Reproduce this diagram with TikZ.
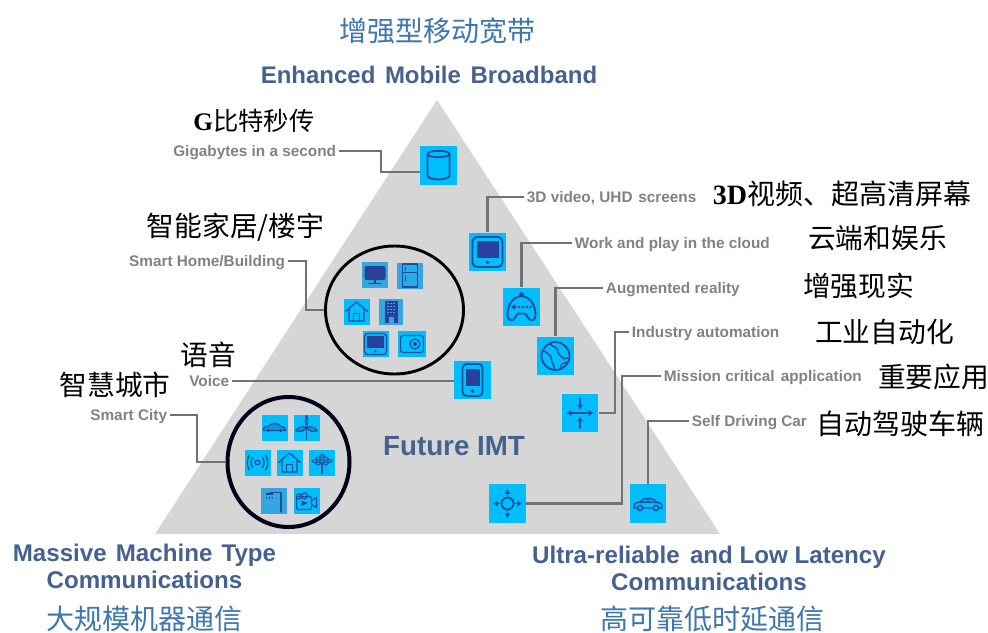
\documentclass[tikz,border=0pt]{standalone}
\usepackage{fontspec}
\setmainfont{Liberation Sans}
\newfontfamily\cjk{Noto Sans CJK SC}
\newfontfamily\serifb{Liberation Serif}[BoldFont={Liberation Serif Bold}]
\usetikzlibrary{shapes.geometric,arrows.meta}
\definecolor{tri}{HTML}{D6D6D6}
\definecolor{cyanbg}{HTML}{00BDFC}
\definecolor{dimbg}{HTML}{35A6E2}
\definecolor{glyphc}{HTML}{1E4F9C}
\definecolor{glyphd}{HTML}{29409A}
\definecolor{wirec}{HTML}{6E7378}
\definecolor{labc}{HTML}{7E8286}
\definecolor{headb}{HTML}{45628F}
\definecolor{cjkb}{HTML}{3E76AE}
\tikzset{
  lab/.style={font=\fontsize{11.5pt}{13pt}\selectfont\bfseries,text=labc,inner sep=2pt,text height=8.2pt,text depth=0pt},
  head/.style={font=\fontsize{18.1pt}{20.2pt}\selectfont\bfseries,text=headb,align=center,inner sep=0pt},
  cjkhead/.style={font=\fontsize{21pt}{24pt}\cjk,text=cjkb,inner sep=0pt},
  cjkblack/.style={font=\fontsize{20.8pt}{24pt}\cjk,text=black,inner sep=0pt},
  wire/.style={draw=wirec,line width=2.2pt,line join=miter},
  bigicon/.style={fill=cyanbg,minimum width=27.5pt,minimum height=29pt,inner sep=0pt},
  smallicon/.style={fill=cyanbg,minimum width=19.5pt,minimum height=19.5pt,inner sep=0pt},
  dimicon/.style={smallicon,fill=dimbg},
  ring/.style={draw=#1,ellipse,inner sep=0pt},
  gl/.style={draw=glyphc,line width=1.4pt,line cap=round,line join=round},
  glf/.style={fill=glyphd},
  sm/.style={draw=glyphc,line width=0.9pt,line cap=round,line join=round},
  arr/.style={gl,-{Latex[length=4pt,width=4.5pt]}},
  arrd/.style={gl,{Latex[length=4pt,width=4.5pt]}-{Latex[length=4pt,width=4.5pt]}}
}
% ---- large glyphs
\newcommand\gDb[1]{\begin{scope}[shift={(#1)}]
 \draw[gl] (0,-11.5) ellipse (11 and 3.2);
 \draw[gl] (-11,-11.5) -- (-11,10.5) .. controls (-9,15) and (9,15) .. (11,10.5) -- (11,-11.5);
\end{scope}}
\newcommand\gTablet[1]{\begin{scope}[shift={(#1)}]
 \draw[gl,rounded corners=3.5] (-15,-15) rectangle (15,15);
 \fill[glf] (-11,-11) rectangle (11,6);
 \fill[glf] (0,10.3) circle (1.9);
\end{scope}}
\newcommand\gPhone[1]{\begin{scope}[shift={(#1)}]
 \draw[gl,rounded corners=3] (-10,-16) rectangle (10,16);
 \fill[glf] (-7,-11) rectangle (7,6);
 \fill[glf] (0,11) circle (1.9);
\end{scope}}
\newcommand\gPad[1]{\begin{scope}[shift={(#1)}]
 \draw[gl] (-14,8) .. controls (-14,-2) and (-9,-10) .. (0,-11) .. controls (9,-10) and (14,-2) .. (14,8)
   .. controls (14.5,14) and (8,15) .. (6,10) .. controls (5.5,7.5) and (4,6.5) .. (2,6.5) -- (-2,6.5)
   .. controls (-4,6.5) and (-5.5,7.5) .. (-6,10) .. controls (-8,15) and (-14.5,14) .. cycle;
 \fill[glf] (0,-12.5) circle (2.4);
 \draw[gl,line width=1pt] (-9.5,0) -- (-5.5,0) (-7.5,-2) -- (-7.5,2);
 \foreach \q in {-2.5,1.5,5.5,9}{\fill[glf] (\q,0) circle (1.3);}
\end{scope}}
\newcommand\gGlobe[1]{\begin{scope}[shift={(#1)}]
 \draw[gl] (0,0) circle (14);
 \draw[gl,line width=1.1pt] (-13,-5) .. controls (-8,-5) and (-8,-1) .. (-5,0) .. controls (-3,2) and (-5,5) .. (-3,7) .. controls (-2,9) and (-1,11) .. (-1,14);
 \draw[gl,line width=1.1pt] (-6,-12.5) .. controls (-3,-9) and (2,-9) .. (2,-6) .. controls (1,-3) and (5,-2) .. (6,1) .. controls (7,3) and (10,3) .. (12,2);
 \draw[gl,line width=1.1pt] (5,13) .. controls (4,8) and (8,7) .. (12,6);
\end{scope}}
\newcommand\gIn[1]{\begin{scope}[shift={(#1)}]
 \draw[arrd] (-14,0) -- (14,0);
 \draw[arr] (0,-15) -- (0,-3);
 \draw[arr] (0,15) -- (0,3);
\end{scope}}
\newcommand\gOut[1]{\begin{scope}[shift={(#1)}]
 \draw[gl] (0,0) circle (6);
 \draw[arr] (0,-6) -- (0,-15);
 \draw[arr] (0,6) -- (0,15);
 \draw[arr] (-6,0) -- (-15,0);
 \draw[arr] (6,0) -- (15,0);
\end{scope}}
\newcommand\gCar[1]{\begin{scope}[shift={(#1)}]
 \draw[gl,line width=1.1pt] (-11,4.5) -- (-14,4.5) .. controls (-14.5,0) and (-12,-1) .. (-8,-1.5) .. controls (-5,-5) and (-2,-5) .. (2,-5)
   .. controls (5,-5) and (7,-3) .. (9,-1.2) .. controls (12,-.8) and (14.5,0) .. (14,4.5) -- (11,4.5);
 \draw[gl,line width=1.1pt] (-5,4.5) -- (5,4.5) (-8,-1.5) -- (9,-1.2) (0,-5) -- (0,-1.3);
 \draw[gl,line width=1.1pt] (-8,4.5) circle (2.6) (8,4.5) circle (2.6);
\end{scope}}
% ---- small glyphs
\newcommand\sMonitor[1]{\begin{scope}[shift={(#1)}]
 \fill[glf,rounded corners=1.5] (-10.5,-9) rectangle (10.5,5);
 \fill[glf] (-1,5) rectangle (1,8.5);
 \draw[sm] (-6,8.5) -- (6,8.5);
\end{scope}}
\newcommand\sFridge[1]{\begin{scope}[shift={(#1)}]
 \draw[sm,fill=dimbg!80!cyanbg] (-7.5,-11.5) rectangle (7.5,11.5);
 \draw[sm] (-7.5,-3) -- (7.5,-3) (-4.5,-8) -- (-4.5,-5) (-4.5,0) -- (-4.5,5);
\end{scope}}
\newcommand\sHome[1]{\begin{scope}[shift={(#1)}]
 \draw[sm] (-11,0) -- (0,-9.5) -- (11,0) (-7.5,-2) -- (-7.5,9.5) -- (7.5,9.5) -- (7.5,-2);
 \draw[sm] (-3,9.5) -- (-3,2) -- (3,2) -- (3,9.5);
\end{scope}}
\newcommand\sBuilding[1]{\begin{scope}[shift={(#1)}]
 \fill[glf] (-6.5,-11) rectangle (6.5,11);
 \foreach \a in {-3,0,3}{\foreach \b in {-8,-5,-2,1}{\fill[dimbg] (\a-.8,\b-.8) rectangle (\a+.8,\b+.8);}}
 \fill[dimbg] (-2.5,5.5) rectangle (2.5,11);
\end{scope}}
\newcommand\sTablet[1]{\begin{scope}[shift={(#1)}]
 \draw[sm,rounded corners=2.5] (-11,-10.5) rectangle (11,10.5);
 \fill[glf] (-8.5,-8) rectangle (8.5,4);
 \fill[glf] (0,7.3) circle (1.3);
\end{scope}}
\newcommand\sSafe[1]{\begin{scope}[shift={(#1)}]
 \draw[sm,rounded corners=2] (-11.5,-8.5) rectangle (11.5,8.5);
 \draw[sm] (3,0) circle (5);
 \fill[glf] (3,0) circle (2);
\end{scope}}
\newcommand\sCar[1]{\begin{scope}[shift={(#1)}]
 \draw[sm,fill=glyphc!35!cyanbg] (-11,3) .. controls (-11.5,-.5) and (-9,-1) .. (-6,-1.5) .. controls (-4,-4) and (-1,-4) .. (1,-4)
   .. controls (4,-4) and (5,-2) .. (7,-1) .. controls (9,-.6) and (11.5,0) .. (11,3) -- cycle;
 \fill[glf] (-6,3) circle (1.6) (6,3) circle (1.6);
\end{scope}}
\newcommand\sMill[1]{\begin{scope}[shift={(#1)}]
 \draw[sm] (0,-1) -- (0,12);
 \draw[sm,fill=glyphc!35!cyanbg] (0,-1) .. controls (-2,-6) and (-1,-10) .. (0,-12) .. controls (1,-10) and (2,-6) .. (0,-1);
 \draw[sm,fill=glyphc!35!cyanbg] (0,0) .. controls (-4,-2) and (-8,0) .. (-11,3) .. controls (-7,5) and (-3,4) .. (0,0);
 \draw[sm,fill=glyphc!35!cyanbg] (0,0) .. controls (4,-2) and (8,0) .. (11,3) .. controls (7,5) and (3,4) .. (0,0);
\end{scope}}
\newcommand\sWave[1]{\begin{scope}[shift={(#1)}]
 \draw[sm,rounded corners=1] (-2.5,-2) rectangle (2.5,2);
 \draw[sm] (-5,-5) .. controls (-7,-2) and (-7,2) .. (-5,5) (5,-5) .. controls (7,-2) and (7,2) .. (5,5);
 \draw[sm] (-8,-7.5) .. controls (-11,-3) and (-11,3) .. (-8,7.5) (8,-7.5) .. controls (11,-3) and (11,3) .. (8,7.5);
\end{scope}}
\newcommand\sTree[1]{\begin{scope}[shift={(#1)}]
 \draw[sm] (0,0) -- (0,11);
 \foreach \a/\b in {0/-6.5,-3.8/-4,3.8/-4,-7.6/-1.5,7.6/-1.5,0/-1.5,-3.8/1,3.8/1}{\draw[sm,line width=.7pt] (\a-2.6,\b) -- (\a,\b-1.7) -- (\a+2.6,\b) -- (\a,\b+1.7) -- cycle;}
\end{scope}}
\newcommand\sLamp[1]{\begin{scope}[shift={(#1)}]
 \draw[sm,line width=1.3pt] (7,11.5) -- (7,-8) -- (-4,-8);
 \fill[glf] (-8,-5.5) rectangle (-1,-8);
 \draw[sm,line width=.6pt] (-7,-3.5) -- (-7.5,-2) (-4.5,-3.5) -- (-4.5,-1.5) (-2,-3.5) -- (-1.5,-2);
\end{scope}}
\newcommand\sVideo[1]{\begin{scope}[shift={(#1)}]
 \draw[sm,rounded corners=1.5] (-10,-4) rectangle (5,9);
 \draw[sm] (5,0) -- (10,-3) -- (10,7) -- (5,4);
 \draw[sm] (-7.5,-4) circle (2.6) (-2,-4.8) circle (3);
 \fill[glf] (-5,0) -- (1,2.5) -- (-5,5.5) -- cycle;
\end{scope}}
\begin{document}
\begin{tikzpicture}[x=0.75pt,y=-0.75pt]
\useasboundingbox (0,0) rectangle (988,632);
\fill[tri] (437,100) -- (720,534) -- (155,534) -- cycle;

% headings
\node[cjkhead] (t1) at (437.5,31) {增强型移动宽带};
\node[head,font=\fontsize{18pt}{20pt}\selectfont\bfseries] (t2) at (429,75) {Enhanced\hspace{.12em} Mobile\hspace{.12em} Broadband};
\node[head] (t3) at (144.5,566.5) {Massive\hspace{.1em} Machine\hspace{.1em} Type\\Communications};
\node[cjkhead] (t4) at (144.5,619) {大规模机器通信};
\node[head] (t5) at (709,568.5) {Ultra-reliable\hspace{.15em} and Low Latency\\Communications};
\node[cjkhead] (t6) at (712,619) {高可靠低时延通信};
\node[head,font=\fontsize{20.8pt}{24pt}\selectfont\bfseries] (t7) at (454,446) {Future IMT};

% black Chinese captions
\node[cjkblack,font=\fontsize{19pt}{22pt}\cjk] (c1) at (254,121) {{\serifb\bfseries G}比特秒传};
\node[cjkblack] (c2) at (235.5,227) {智能家居/楼宇};
\node[cjkblack] (c3) at (208,355) {语音};
\node[cjkblack] (c4) at (115,385) {智慧城市};
\node[cjkblack,font=\fontsize{21pt}{24pt}\cjk] (c5) at (842,194) {{\serifb\bfseries 3D}视频、超高清屏幕};
\node[cjkblack] (c6) at (877.5,238) {云端和娱乐};
\node[cjkblack] (c7) at (858.5,286) {增强现实};
\node[cjkblack] (c8) at (884.5,332) {工业自动化};
\node[cjkblack] (c9) at (933.5,377) {重要应用};
\node[cjkblack,font=\fontsize{21pt}{24pt}\cjk] (c10) at (900.5,424) {自动驾驶车辆};

% grey labels
\node[lab,anchor=east] (lgig) at (339,151) {Gigabytes in a second};
\node[lab,anchor=east] (lhome) at (288,261) {Smart Home/Building};
\node[lab,anchor=east] (lvoice) at (232,381) {Voice};
\node[lab,anchor=east] (lcity) at (170,415) {Smart City};
\node[lab,anchor=west] (l3d) at (524,197) {3D video, UHD\hspace{.1em} screens};
\node[lab,anchor=west] (lwork) at (572,243) {Work and play in the cloud};
\node[lab,anchor=west] (laug) at (603,288) {Augmented reality};
\node[lab,anchor=west] (lind) at (629,332) {Industry automation};
\node[lab,anchor=west] (lmis) at (661,376) {Mission critical\hspace{.12em} application};
\node[lab,anchor=west] (lcar) at (689,421) {Self Driving Car};

% rings
\node[ring=black,line width=2.2pt,minimum width=103.5pt,minimum height=96pt] (homec) at (394.5,310) {};
\node[ring={black!90!blue},line width=3pt,minimum width=91.5pt,minimum height=97.5pt] (cityc) at (288.5,462) {};

% big icons
\node[bigicon] (db) at (438.5,165.5) {};
\node[bigicon] (tablet) at (487.5,252) {};
\node[bigicon] (pad) at (521.5,307) {};
\node[bigicon] (globe) at (555.5,356) {};
\node[bigicon] (phone) at (472.5,380) {};
\node[bigicon] (inw) at (580,413) {};
\node[bigicon] (outw) at (507.5,503.5) {};
\node[bigicon] (car) at (648,503.5) {};
\gDb{db} \gTablet{tablet} \gPad{pad} \gGlobe{globe} \gPhone{phone} \gIn{inw} \gOut{outw} \gCar{car}

% home ring icons
\node[dimicon] (h1) at (375,275) {};
\node[dimicon] (h2) at (410,275.5) {};
\node[smallicon] (h3) at (356.5,311.5) {};
\node[dimicon,minimum width=18pt] (h4) at (391,311.5) {};
\node[smallicon,fill=cyanbg!70!dimbg] (h5) at (375.5,344) {};
\node[smallicon,minimum width=21pt] (h6) at (412,344) {};
\sMonitor{h1} \sFridge{h2} \sHome{h3} \sBuilding{h4} \sTablet{h5} \sSafe{h6}

% city ring icons
\node[smallicon] (s1) at (274.5,427.5) {};
\node[smallicon] (s2) at (306.5,427.5) {};
\node[smallicon] (s3) at (257.5,462.5) {};
\node[smallicon] (s4) at (289.5,462.5) {};
\node[smallicon] (s5) at (322,462.5) {};
\node[dimicon] (s6) at (274,500.5) {};
\node[smallicon] (s7) at (306.5,500.5) {};
\sCar{s1} \sMill{s2} \sWave{s3} \sHome{s4} \sTree{s5} \sLamp{s6} \sVideo{s7}

% connector elbows
\coordinate (e1) at (381,172);
\coordinate (e2) at (306,310);
\coordinate (e3) at (197,462);
\coordinate (e4) at (615,332);
\coordinate (e5) at (622,376);

\draw[wire] (lgig.east) -| (e1) -- (e1 -| db.west);
\draw[wire] (lhome.east) -| (e2) -- (homec.west);
\draw[wire] (lvoice.east) -- (lvoice.east -| phone.west);
\draw[wire] (lcity.east) -| (e3) -- (cityc.west);
\draw[wire] (l3d.west) -| (tablet.north);
\draw[wire] (lwork.west) -| (pad.north);
\draw[wire] (laug.west) -| (globe.north);
\draw[wire] (inw.east) -| (e4) -- (lind.west);
\draw[wire] (outw.east) -| (e5) -- (lmis.west);
\draw[wire,line width=1.8pt] (lcar.west) -| (car.north);
\end{tikzpicture}
\end{document}
